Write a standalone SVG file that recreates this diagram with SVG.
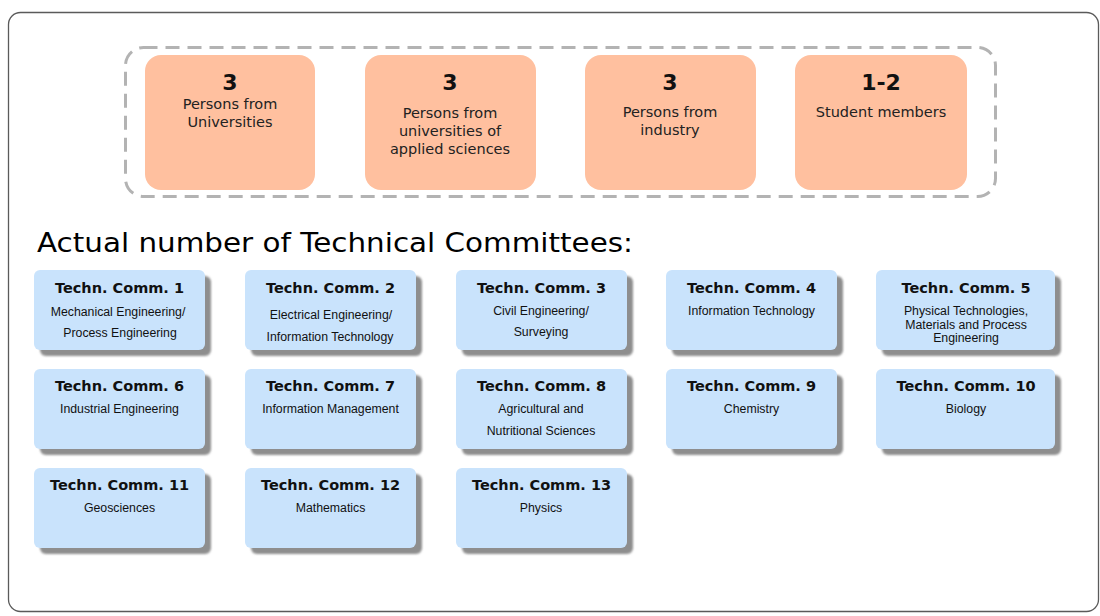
<svg xmlns="http://www.w3.org/2000/svg" width="1100" height="616" viewBox="0 0 1100 616">
<style>
.frame{fill:#fff;stroke:#5a5a5a;stroke-width:1.3}
.dash{fill:none;stroke:#b3b3b3;stroke-width:3;stroke-dasharray:14 8}
.org{fill:#ffc09f}
.num{font-family:"DejaVu Sans",Verdana,sans-serif;font-weight:bold;font-size:22px;fill:#111;text-anchor:middle}
.otx{font-family:"DejaVu Sans",Verdana,sans-serif;font-size:14.5px;fill:#222;text-anchor:middle}
.blue{fill:#c9e3fc}
.shd{fill:#8e8e8e;filter:url(#blur)}
.tt{font-family:"DejaVu Sans",Verdana,sans-serif;font-weight:bold;font-size:14.5px;fill:#111;text-anchor:middle}
.bt{font-family:"Liberation Sans",Arial,sans-serif;font-size:12.3px;fill:#111;text-anchor:middle}
.head{font-family:"DejaVu Sans",Verdana,sans-serif;font-size:26px;fill:#000}
</style>
<defs>
<filter id="blur" x="-10%" y="-10%" width="120%" height="130%"><feGaussianBlur stdDeviation="1.2"/></filter>
</defs>
<rect class="frame" x="8.5" y="12.5" width="1090" height="599" rx="12"/>
<rect class="dash" x="125.5" y="47.5" width="870" height="149" rx="18"/>
<g id="m1"><rect class="org" x="145" y="55" width="170" height="135" rx="16"/><text class="num" x="230" y="90">3</text><text class="otx" x="230" y="109">Persons from</text><text class="otx" x="230" y="127">Universities</text></g>
<g id="m2"><rect class="org" x="365" y="55" width="171" height="135" rx="16"/><text class="num" x="450" y="90">3</text><text class="otx" x="450" y="118">Persons from</text><text class="otx" x="450" y="136">universities of</text><text class="otx" x="450" y="154">applied sciences</text></g>
<g id="m3"><rect class="org" x="585" y="55" width="171" height="135" rx="16"/><text class="num" x="670" y="90">3</text><text class="otx" x="670" y="117">Persons from</text><text class="otx" x="670" y="135">industry</text></g>
<g id="m4"><rect class="org" x="795" y="55" width="172" height="135" rx="16"/><text class="num" x="881" y="90">1-2</text><text class="otx" x="881" y="117">Student members</text></g>
<text class="head" x="37" y="252" textLength="596" lengthAdjust="spacingAndGlyphs">Actual number of Technical Committees:</text>
<g id="tc1"><rect class="shd" x="40" y="276" width="171" height="80" rx="6"/><rect class="blue" x="34" y="270" width="171" height="80" rx="6"/><text class="tt" x="119.5" y="293">Techn. Comm. 1</text><text class="bt" x="118" y="316">Mechanical Engineering/</text><text class="bt" x="120" y="337">Process Engineering</text></g>
<g id="tc2"><rect class="shd" x="251" y="276" width="171" height="80" rx="6"/><rect class="blue" x="245" y="270" width="171" height="80" rx="6"/><text class="tt" x="330.5" y="293">Techn. Comm. 2</text><text class="bt" x="331" y="319">Electrical Engineering/</text><text class="bt" x="330" y="341">Information Technology</text></g>
<g id="tc3"><rect class="shd" x="462" y="276" width="171" height="80" rx="6"/><rect class="blue" x="456" y="270" width="171" height="80" rx="6"/><text class="tt" x="541.5" y="293">Techn. Comm. 3</text><text class="bt" x="541" y="315">Civil Engineering/</text><text class="bt" x="541" y="336">Surveying</text></g>
<g id="tc4"><rect class="shd" x="672" y="276" width="171" height="80" rx="6"/><rect class="blue" x="666" y="270" width="171" height="80" rx="6"/><text class="tt" x="751.5" y="293">Techn. Comm. 4</text><text class="bt" x="751.5" y="315">Information Technology</text></g>
<g id="tc5"><rect class="shd" x="882" y="276" width="179" height="80" rx="6"/><rect class="blue" x="876" y="270" width="179" height="80" rx="6"/><text class="tt" x="966" y="293">Techn. Comm. 5</text><text class="bt" x="966" y="315">Physical Technologies,</text><text class="bt" x="966" y="328.5">Materials and Process</text><text class="bt" x="966" y="342">Engineering</text></g>
<g id="tc6"><rect class="shd" x="40" y="375" width="171" height="80" rx="6"/><rect class="blue" x="34" y="369" width="171" height="80" rx="6"/><text class="tt" x="119.5" y="391">Techn. Comm. 6</text><text class="bt" x="119.5" y="413">Industrial Engineering</text></g>
<g id="tc7"><rect class="shd" x="251" y="375" width="171" height="80" rx="6"/><rect class="blue" x="245" y="369" width="171" height="80" rx="6"/><text class="tt" x="330.5" y="391">Techn. Comm. 7</text><text class="bt" x="330.5" y="413">Information Management</text></g>
<g id="tc8"><rect class="shd" x="462" y="375" width="171" height="80" rx="6"/><rect class="blue" x="456" y="369" width="171" height="80" rx="6"/><text class="tt" x="541.5" y="391">Techn. Comm. 8</text><text class="bt" x="541" y="413">Agricultural and</text><text class="bt" x="541" y="435">Nutritional Sciences</text></g>
<g id="tc9"><rect class="shd" x="672" y="375" width="171" height="80" rx="6"/><rect class="blue" x="666" y="369" width="171" height="80" rx="6"/><text class="tt" x="751.5" y="391">Techn. Comm. 9</text><text class="bt" x="751.5" y="413">Chemistry</text></g>
<g id="tc10"><rect class="shd" x="882" y="375" width="179" height="80" rx="6"/><rect class="blue" x="876" y="369" width="179" height="80" rx="6"/><text class="tt" x="966" y="391">Techn. Comm. 10</text><text class="bt" x="966" y="413">Biology</text></g>
<g id="tc11"><rect class="shd" x="40" y="474" width="171" height="80" rx="6"/><rect class="blue" x="34" y="468" width="171" height="80" rx="6"/><text class="tt" x="119.5" y="490">Techn. Comm. 11</text><text class="bt" x="119.5" y="512">Geosciences</text></g>
<g id="tc12"><rect class="shd" x="251" y="474" width="171" height="80" rx="6"/><rect class="blue" x="245" y="468" width="171" height="80" rx="6"/><text class="tt" x="330.5" y="490">Techn. Comm. 12</text><text class="bt" x="330.5" y="512">Mathematics</text></g>
<g id="tc13"><rect class="shd" x="462" y="474" width="171" height="80" rx="6"/><rect class="blue" x="456" y="468" width="171" height="80" rx="6"/><text class="tt" x="541.5" y="490">Techn. Comm. 13</text><text class="bt" x="541" y="512">Physics</text></g>
<g id="connectors"/>
</svg>
